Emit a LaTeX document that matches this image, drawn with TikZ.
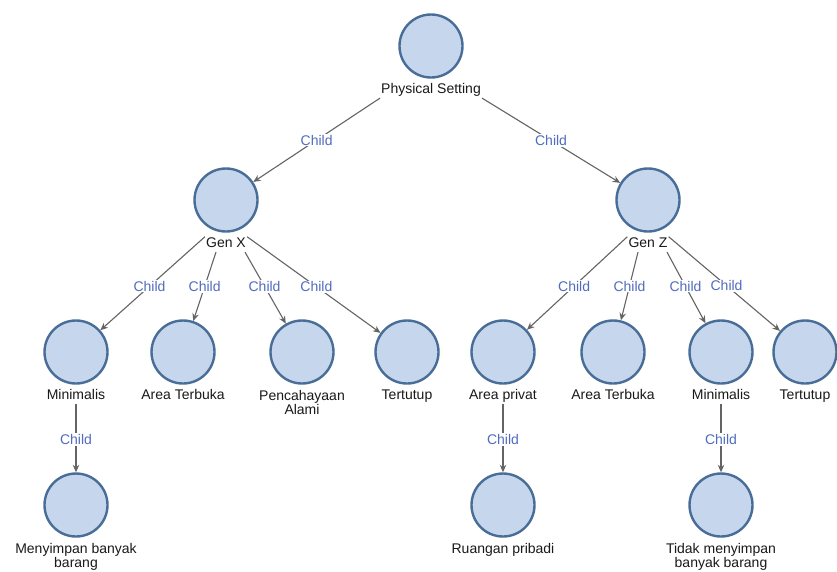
\documentclass[tikz,border=0pt]{standalone}
\usepackage{fontspec}
\setmainfont{Liberation Sans}
\usetikzlibrary{arrows.meta,positioning}
\definecolor{circfill}{RGB}{198,214,236}
\definecolor{circdraw}{RGB}{72,110,152}
\definecolor{edgecol}{RGB}{100,100,100}
\definecolor{childcol}{RGB}{80,108,190}
\begin{document}
\begin{tikzpicture}[x=1pt,y=-1pt,
  ent/.style={circle, draw=circdraw, fill=circfill, line width=2.4pt, minimum size=63pt, inner sep=0pt},
  lab/.style={font=\fontsize{14}{14}\selectfont, text=black!90, inner sep=1pt, text height=10pt, text depth=3pt},
  labtwo/.style={font=\fontsize{14}{14}\selectfont, text=black!90, inner sep=1pt, align=center},
  rel/.style={draw=edgecol, line width=1.1pt, -{Stealth[length=7.5pt,width=6.5pt]}},
  chl/.style={font=\fontsize{14}{14}\selectfont, text=childcol, fill=white, inner sep=1pt}]
\fill[white] (0,0) rectangle (837,571);
\useasboundingbox (0,0) rectangle (837,571);
% level 1
\node[ent] (ps) at (431,46) {};
\node[lab, below=4pt of ps] (psl) {Physical Setting};
% level 2
\node[ent] (gx) at (226,200) {};
\node[lab, below=4pt of gx] (gxl) {Gen X};
\node[ent] (gz) at (648,200) {};
\node[lab, below=4pt of gz] (gzl) {Gen Z};
% level 3
\node[ent] (mina) at (76,352) {};
\node[lab, below=4pt of mina] (minal) {Minimalis};
\node[ent] (ata) at (183,352) {};
\node[lab, below=4pt of ata] (atal) {Area Terbuka};
\node[ent] (pa) at (302,352) {};
\node[labtwo, below=4pt of pa] (pal) {Pencahayaan\\Alami};
\node[ent] (tta) at (407,352) {};
\node[lab, below=4pt of tta] (ttal) {Tertutup};
\node[ent] (ap) at (503,352) {};
\node[lab, below=4pt of ap] (apl) {Area privat};
\node[ent] (atb) at (613,352) {};
\node[lab, below=4pt of atb] (atbl) {Area Terbuka};
\node[ent] (minb) at (721,352) {};
\node[lab, below=4pt of minb] (minbl) {Minimalis};
\node[ent] (ttb) at (805,352) {};
\node[lab, below=4pt of ttb] (ttbl) {Tertutup};
% level 4
\node[ent] (mb) at (76,505) {};
\node[labtwo, below=4pt of mb] (mbl) {Menyimpan banyak\\barang};
\node[ent] (rp) at (503,505) {};
\node[labtwo, below=4pt of rp] (rpl) {Ruangan pribadi};
\node[ent] (tm) at (721,505) {};
\node[labtwo, below=4pt of tm] (tml) {Tidak menyimpan\\banyak barang};
% connectors
\draw[rel] (psl.south west) -- node[chl,pos=0.5]{Child} (gx);
\draw[rel] (psl.south east) -- node[chl,pos=0.5]{Child} (gz);
\draw[rel] (gxl.north west) -- node[chl,pos=0.53]{Child} (mina);
\draw[rel] ([xshift=-10pt]gxl.south) -- node[chl,pos=0.5]{Child} (ata);
\draw[rel] ([xshift=19pt]gxl.south) -- node[chl,pos=0.48]{Child} (pa);
\draw[rel] (gxl.north east) -- node[chl,pos=0.52]{Child} (tta);
\draw[rel] (gzl.north west) -- node[chl,pos=0.53]{Child} (ap);
\draw[rel] ([xshift=-10pt]gzl.south) -- node[chl,pos=0.5]{Child} (atb);
\draw[rel] ([xshift=19pt]gzl.south) -- node[chl,pos=0.48]{Child} (minb);
\draw[rel] (gzl.north east) -- node[chl,pos=0.52]{Child} (ttb);
\draw[rel] (minal.south) -- node[chl,pos=0.52]{Child} (mb);
\draw[rel] (apl.south) -- node[chl,pos=0.52]{Child} (rp);
\draw[rel] (minbl.south) -- node[chl,pos=0.52]{Child} (tm);
\end{tikzpicture}
\end{document}
